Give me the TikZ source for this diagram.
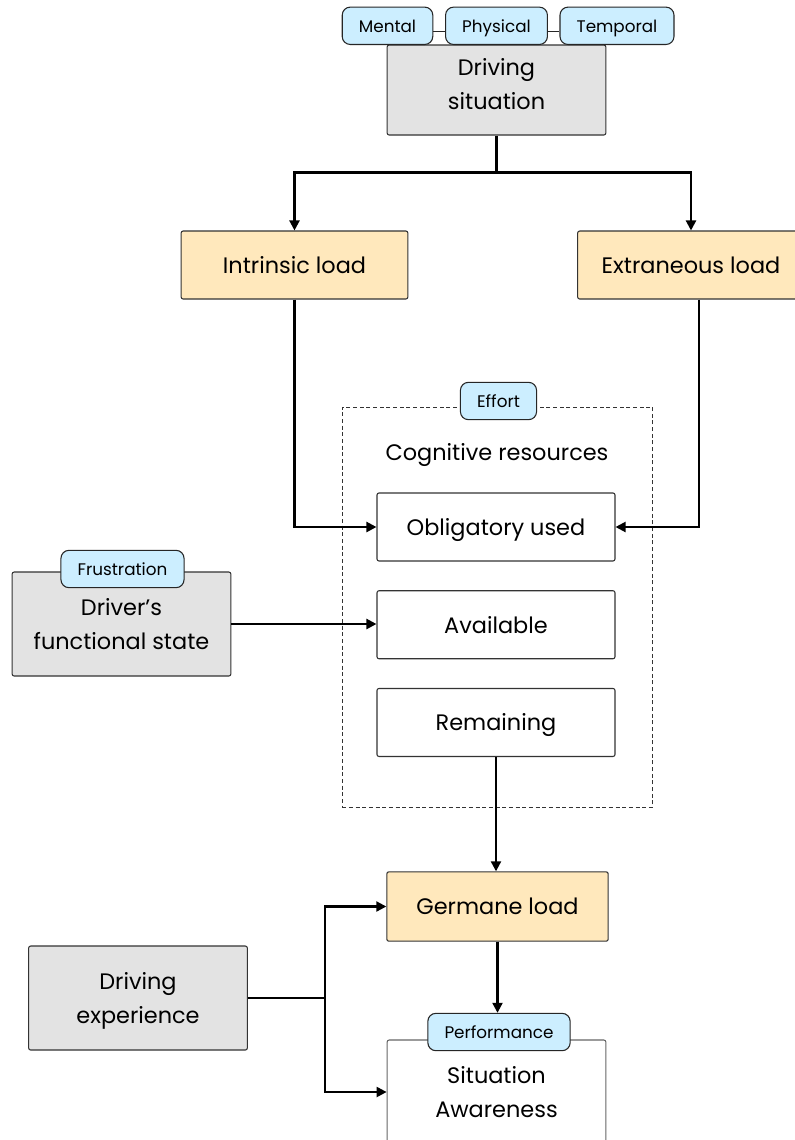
\documentclass[tikz,border=0pt]{standalone}
\usepackage{fontspec}
\setmainfont{Poppins}
\usetikzlibrary{arrows.meta,positioning}
\definecolor{greycol}{HTML}{E3E3E3}
\definecolor{loadcol}{HTML}{FFE8BC}
\definecolor{tagcol}{HTML}{CCEEFF}

\begin{document}
\begin{tikzpicture}[x=0.75pt, y=-0.75pt,
  box/.style={draw=black!80, line width=0.8pt, rounded corners=1.5pt, minimum width=164pt,
              minimum height=78pt, align=center, inner sep=0pt, font=\fontsize{16.8}{25.5}\selectfont},
  load/.style={box, fill=loadcol, minimum width=170pt, minimum height=51pt, text height=12.6pt, text depth=0pt},
  factor/.style={box, fill=greycol},
  res/.style={box, fill=white, minimum width=178.5pt, minimum height=51pt, text height=12.6pt, text depth=0pt},
  tag/.style={draw=black!85, line width=0.8pt, fill=tagcol, rounded corners=6pt, minimum height=28pt,
              inner xsep=12.5pt, inner ysep=0pt, text height=9.5pt, text depth=0pt,
              font=\fontsize{12.6}{14}\selectfont},
  flow/.style={-{Triangle[length=7.5pt,width=7.5pt]}, line width=1.6pt}]
  \clip (0,0) rectangle (795,1140);
  \fill[white] (0,0) rectangle (795,1140);
  % driving situation and its three demands
  \node[factor, minimum height=67.5pt, text depth=9pt] (sit) at (496.5,90) {Driving\\situation};
  \node[tag, anchor=south] (mental) at (387.5,45) {Mental};
  \node[tag, anchor=south] (phys) at (496.5,45) {Physical};
  \node[tag, anchor=south] (temp) at (617,45) {Temporal};
  \draw[line width=0.8pt, black!85] ([yshift=-4pt]mental.east) -- ([yshift=-4pt]phys.west);
  \draw[line width=0.8pt, black!85] ([yshift=-4pt]phys.east) -- ([yshift=-4pt]temp.west);
  \node[load] (intr) at (294.5,265) {Intrinsic load};
  \node[load] (extr) at (691,265) {Extraneous load};
  % cognitive resources
  \node[draw=black!80, line width=0.6pt, dash pattern=on 3pt off 2pt, minimum width=233pt,
        minimum height=300pt] (cog) at (497.5,607) {};
  \node[font=\fontsize{16.8}{20}\selectfont] (cogtitle) at (497,455) {Cognitive resources};
  \node[tag] (effort) at (498.5,401) {Effort};
  \node[res] (oblig) at (496,527) {Obligatory used};
  \node[res, below=21.5pt of oblig] (avail) {Available};
  \node[res, below=21.5pt of avail] (remain) {Remaining};
  \node[factor] (state) at (121.5,624) {Driver’s\\functional state};
  \node[tag] (frust) at (122.5,569) {Frustration};
  % germane load and outcome
  \node[load, minimum width=166pt, minimum height=52pt] (germ) at (497.5,906.5) {Germane load};
  \node[factor, text depth=0pt] (exper) at (138,998) {Driving\\experience};
  \node[box, draw=black!60, fill=white] (sa) at (496.5,1092) {Situation\\Awareness};
  \node[tag] (perf) at (499,1032) {Performance};
  % connectors
  \draw[flow] (sit.south) -- ++(0,37) coordinate (fork) -| (intr.north);
  \draw[flow] (fork) -| (extr.north);
  \draw[flow] (intr.south) |- (oblig.west);
  \draw[flow] ([xshift=6pt]extr.south) |- (oblig.east);
  \draw[flow] (state.east) -- (state.east -| avail.west);
  \draw[flow] (remain.south) -- (remain.south |- germ.north);
  \draw[flow] (germ.south) -- (germ.south |- perf.north);
  \draw[line width=1.6pt] (exper.east) -- ++(77,0) coordinate (split);
  \draw[flow] (split) |- (germ.west);
  \draw[flow] (split) |- (sa.west);
\end{tikzpicture}
\end{document}
